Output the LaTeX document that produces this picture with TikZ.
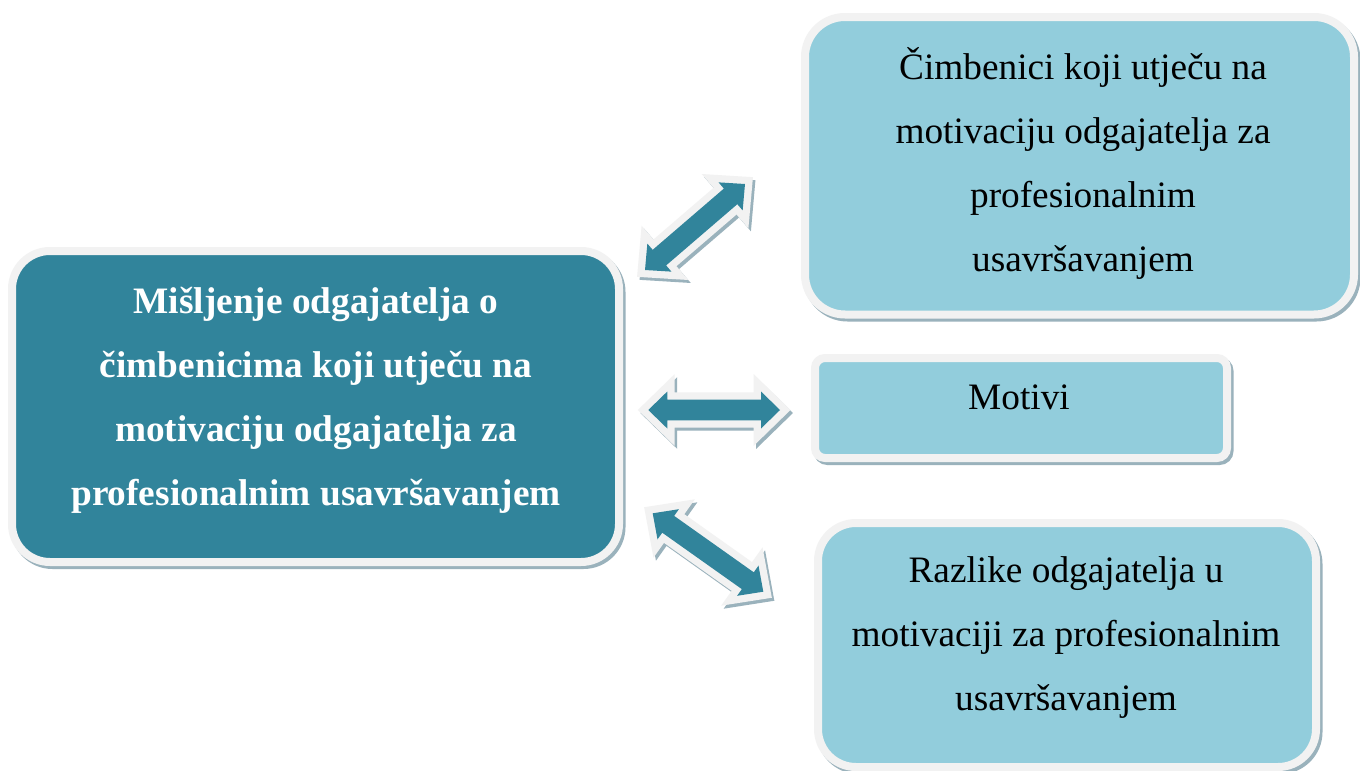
\documentclass[tikz,border=0pt]{standalone}
\usepackage{fontspec}
\setmainfont{Liberation Serif}
\usetikzlibrary{calc}
\definecolor{tealc}{HTML}{31849B}
\definecolor{lightc}{HTML}{92CDDC}
\definecolor{bordc}{HTML}{F2F2F2}
\definecolor{shadc}{HTML}{9AB2BC}
\tikzset{
  shadowpre/.style={preaction={draw=shadc, fill=shadc, line width=#1, transform canvas={shift={(2.5pt,-3pt)}}}},
  box/.style={draw=bordc, line width=8pt, shadowpre=8pt, inner sep=0pt, outer sep=0pt},
  darkbox/.style={box, fill=tealc},
  lightbox/.style={box, fill=lightc},
  boxtext/.style={align=center, inner sep=0pt, anchor=base, font=\fontsize{37.3}{64}\selectfont},
  blockarr/.style={fill=tealc, line join=miter, miter limit=20,
    preaction={draw=shadc, fill=shadc, line width=14.6pt, line join=miter, miter limit=20, transform canvas={shift={(2.5pt,-3pt)}}},
    preaction={draw=bordc, line width=14.6pt, line join=miter, miter limit=20}}
}
\newcommand\dblarrow[2]{%
  \coordinate (#1h) at ($(#1)!19pt!(#2)$);
  \coordinate (#2h) at ($(#2)!19pt!(#1)$);
  \path[blockarr] (#1) -- ($(#1h)!18.5pt!90:(#2)$) -- ($(#1h)!10.3pt!90:(#2)$)
    -- ($(#2h)!10.3pt!-90:(#1)$) -- ($(#2h)!18.5pt!-90:(#1)$) -- (#2)
    -- ($(#2h)!18.5pt!90:(#1)$) -- ($(#2h)!10.3pt!90:(#1)$)
    -- ($(#1h)!10.3pt!-90:(#2)$) -- ($(#1h)!18.5pt!-90:(#2)$) -- cycle;}
\begin{document}
\begin{tikzpicture}[x=1pt,y=-1pt]
\useasboundingbox[fill=white] (0,0) rectangle (1360,771);
% boxes
\node[darkbox, rounded corners=38pt, minimum width=607pt, minimum height=311pt] (main) at (315.5,406.5) {};
\node[lightbox, rounded corners=40pt, minimum width=549pt, minimum height=297.5pt] (cimb) at (1079.5,165.75) {};
\node[lightbox, rounded corners=10pt, minimum width=412pt, minimum height=100pt] (mot) at (1021,408) {};
\node[lightbox, rounded corners=38pt, minimum width=498pt, minimum height=244pt] (razl) at (1067,645) {};
% texts (anchor base = baseline of the last line)
\node[boxtext, text=white] (maintxt) at (316,505) {\bfseries Mišljenje odgajatelja o\\\bfseries čimbenicima koji utječu na\\\bfseries motivaciju odgajatelja za\\\bfseries profesionalnim usavršavanjem};
\node[boxtext] (cimbtxt) at (1083,271) {Čimbenici koji utječu na\\motivaciju odgajatelja za\\profesionalnim\\usavršavanjem};
\node[boxtext] (mottxt) at (1019,409) {Motivi};
\node[boxtext] (razltxt) at (1066,710) {Razlike odgajatelja u\\motivaciji za profesionalnim\\usavršavanjem};
% arrows
\coordinate (a1s) at (645,270);
\coordinate (a1e) at (745,184);
\coordinate (a2s) at (648.3,410);
\coordinate (a2e) at (780,410);
\coordinate (a3s) at (652.7,513.3);
\coordinate (a3e) at (763.3,591.7);
\dblarrow{a1s}{a1e}
\dblarrow{a2s}{a2e}
\dblarrow{a3s}{a3e}
\end{tikzpicture}
\end{document}
